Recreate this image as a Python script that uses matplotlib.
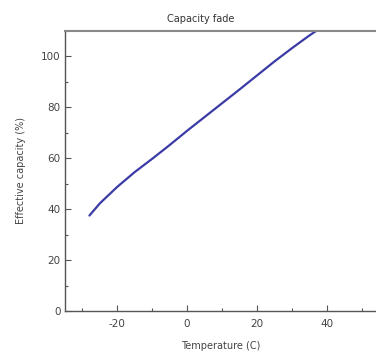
import matplotlib
matplotlib.use("Agg")
import matplotlib.pyplot as plt
from matplotlib.ticker import MultipleLocator

plt.rcParams["axes.unicode_minus"] = False

temperature = [-28, -25, -20, -15, -10, -5, 0, 5, 10, 15, 20, 25, 30, 35, 40]
capacity = [37.5, 42.3, 48.8, 54.6, 59.8, 65.2, 70.8, 76.2, 81.6, 87, 92.5, 98, 103.2, 108.2, 112.8]

W, H = 376, 356
fig = plt.figure(figsize=(W / 100, H / 100), dpi=100)
left, right, top, bottom = 65, 379, 31, 311
ax = fig.add_axes([left / W, 1 - bottom / H, (right - left) / W, (bottom - top) / H])

ax.plot(temperature, capacity, color="#3b3ba6", lw=1.6, solid_capstyle="round")
ax.set_xlim(-35, 55)
ax.set_ylim(0, 110)
ax.xaxis.set_major_locator(MultipleLocator(20))
ax.xaxis.set_minor_locator(MultipleLocator(10))
ax.yaxis.set_major_locator(MultipleLocator(20))
ax.yaxis.set_minor_locator(MultipleLocator(10))
ax.tick_params(which="both", direction="in", colors="#555555", labelcolor="#444444", labelsize=7.5)
ax.tick_params(which="major", length=4, width=0.8)
ax.tick_params(which="minor", length=2, width=0.8)
ax.tick_params(axis="x", which="major", pad=6)
ax.tick_params(axis="y", which="major", pad=3)
for s in ["left", "bottom"]:
    ax.spines[s].set_color("#555555")
    ax.spines[s].set_linewidth(1.0)
ax.spines["top"].set_color("#888888")
ax.spines["top"].set_linewidth(1.5)
ax.spines["right"].set_visible(False)

fig.text(201 / W, 1 - 19 / H, "Capacity fade", ha="center", va="center", fontsize=7, color="#333333")
fig.text(221 / W, 1 - 346 / H, "Temperature (C)", ha="center", va="center", fontsize=7, color="#444444")
fig.text(21 / W, 1 - 171 / H, "Effective capacity (%)", ha="center", va="center", rotation=90, fontsize=7, color="#444444")

fig.savefig("out.png", dpi=100)
